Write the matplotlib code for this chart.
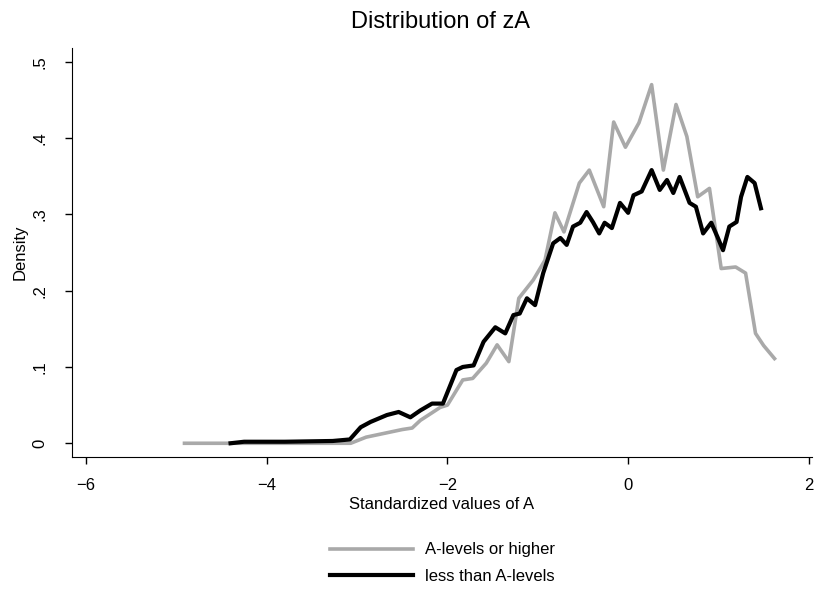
import matplotlib.pyplot as plt

plt.rcParams['font.family'] = ['Liberation Sans', 'DejaVu Sans']

# density of zA, A-levels or higher
hi_x = [-4.91, -4.0, -3.5, -3.07, -2.9, -2.7, -2.5, -2.39, -2.30, -2.17, -2.08, -2.0,
        -1.83, -1.72, -1.57, -1.45, -1.32, -1.21, -1.05, -0.92, -0.81, -0.71,
        -0.54, -0.43, -0.27, -0.16, -0.03, 0.12, 0.26, 0.39, 0.53, 0.65, 0.77,
        0.90, 1.03, 1.19, 1.30, 1.41, 1.50, 1.62]
hi_y = [0.0, 0.0, 0.0, 0.0, 0.008, 0.013, 0.018, 0.020, 0.030, 0.040, 0.047, 0.050,
        0.083, 0.085, 0.105, 0.129, 0.107, 0.190, 0.214, 0.240, 0.302, 0.277,
        0.341, 0.358, 0.310, 0.421, 0.388, 0.420, 0.470, 0.358, 0.444, 0.402, 0.323,
        0.334, 0.229, 0.231, 0.223, 0.144, 0.128, 0.111]

# density of zA, less than A-levels
lo_x = [-4.40, -4.25, -3.8, -3.27, -3.08, -2.96, -2.85, -2.67, -2.54, -2.41, -2.30,
        -2.17, -2.05, -1.90, -1.83, -1.71, -1.60, -1.47, -1.36, -1.27, -1.20,
        -1.12, -1.03, -0.94, -0.83, -0.75, -0.68, -0.61, -0.53, -0.46, -0.39,
        -0.32, -0.26, -0.18, -0.09, 0.0, 0.06, 0.15, 0.26, 0.35, 0.43, 0.50,
        0.57, 0.68, 0.75, 0.83, 0.92, 0.99, 1.05, 1.12, 1.20, 1.25, 1.32, 1.40, 1.47]
lo_y = [0.0, 0.002, 0.002, 0.003, 0.005, 0.021, 0.028, 0.037, 0.041, 0.034, 0.043,
        0.052, 0.052, 0.096, 0.100, 0.102, 0.133, 0.152, 0.144, 0.168, 0.170,
        0.190, 0.181, 0.223, 0.262, 0.269, 0.260, 0.284, 0.289, 0.303, 0.290,
        0.275, 0.289, 0.282, 0.315, 0.302, 0.325, 0.330, 0.358, 0.332, 0.345, 0.328,
        0.349, 0.315, 0.310, 0.275, 0.289, 0.270, 0.253, 0.284, 0.290, 0.323, 0.349, 0.341, 0.308]

xticks = [-6, -4, -2, 0, 2]
yticks = [0, 0.1, 0.2, 0.3, 0.4, 0.5]
ytick_labels = ['0', '.1', '.2', '.3', '.4', '.5']

fig = plt.figure(figsize=(8.16, 5.98), dpi=100)
ax = fig.add_axes([72 / 816, 1 - 457 / 598, (812 - 72) / 816, (457 - 48) / 598])

ax.plot(hi_x, hi_y, color='#a9a9a9', lw=2.6, label='A-levels or higher')
ax.plot(lo_x, lo_y, color='black', lw=3.0, label='less than A-levels')

ax.set_xlim(-6.155, 2.035)
ax.set_ylim(-0.018, 0.518)
ax.set_xticks(xticks)
ax.set_yticks(yticks)
ax.set_yticklabels(ytick_labels, rotation=90, va='center')
ax.tick_params(labelsize=12, length=5, width=1)
ax.tick_params(axis='x', pad=10)
ax.tick_params(axis='y', pad=13)
for s in ['top', 'right']:
    ax.spines[s].set_visible(False)

ax.set_xlabel('Standardized values of A', fontsize=12, labelpad=3)
ax.set_ylabel('Density', fontsize=12, labelpad=3)
fig.text(0.54, 0.964, 'Distribution of zA', fontsize=17, ha='center', va='center')

fig.legend(loc='center', bbox_to_anchor=(0.542, 0.058), frameon=False,
           fontsize=12, handlelength=5, handletextpad=0.7, labelspacing=0.7)

fig.savefig('out.png', dpi=100)
